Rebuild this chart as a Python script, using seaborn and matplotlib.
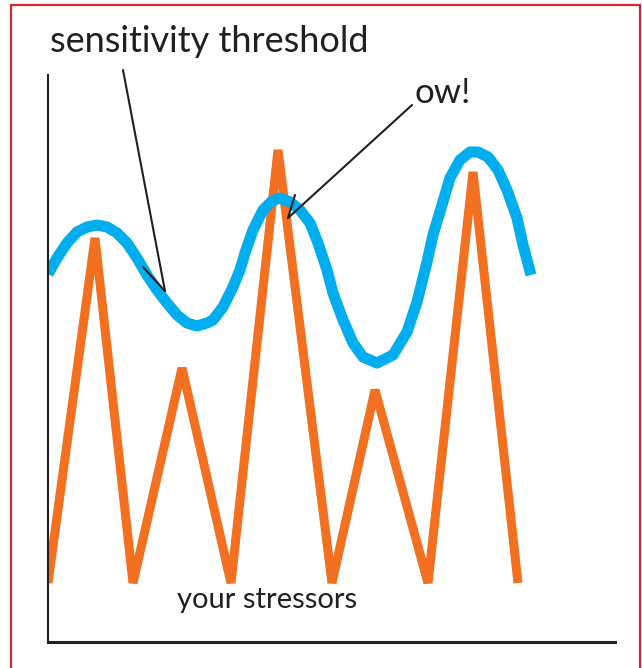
import matplotlib
matplotlib.use("Agg")
import matplotlib.pyplot as plt
from matplotlib.patches import Rectangle
import seaborn as sns
import pandas as pd

# valeurs (unites = pixels depuis le coin des axes)
stress_x = [0, 47, 85, 134, 183, 230, 284, 327, 380, 425, 470]
stress_y = [59, 404, 59, 274, 59, 492, 59, 252, 59, 470, 59]

seuil_x = [0, 9, 19, 29, 39, 49, 59, 69, 79, 89, 99, 109, 119, 129, 139, 149,
           159, 165, 175, 185, 192, 197, 205, 215, 224, 232, 242, 252, 262,
           270, 279, 285, 295, 305, 315, 329, 345, 359, 369, 379, 385, 394,
           402, 412, 422, 430, 440, 450, 459, 469, 475, 483]
seuil_y = [368, 384, 399, 410, 415, 417, 415, 409, 399, 384, 367, 352, 339,
           327, 319, 316, 319, 322, 335, 355, 372, 389, 412, 432, 441, 444,
           440, 432, 419, 399, 372, 349, 322, 299, 285, 279, 287, 310, 340,
           380, 407, 437, 464, 482, 490, 490, 485, 472, 452, 424, 397, 367]

labels = ["sensitivity threshold", "ow!", "your stressors"]

BLEU = "#00aeef"
ORANGE = "#f37021"
NOIR = "#231f20"

sns.set_style("white")
plt.rcParams["font.family"] = ["Lato", "DejaVu Sans"]

W, H = 642, 668
fig = plt.figure(figsize=(W / 100, H / 100), dpi=100)
fig.patches.append(Rectangle((11 / W, -0.05), 629 / W, 1.05 - 5 / H, transform=fig.transFigure,
                             fill=False, edgecolor="#d7282f", linewidth=1.6))

ax = fig.add_axes([48 / W, 26 / H, 567 / W, 567 / H])
ax.set_xlim(0, 567)
ax.set_ylim(0, 567)

df_stress = pd.DataFrame({"x": stress_x, "y": stress_y})
df_seuil = pd.DataFrame({"x": seuil_x, "y": seuil_y})

sns.lineplot(data=df_stress, x="x", y="y", sort=False, color=ORANGE, linewidth=6.5, ax=ax,
             solid_joinstyle="bevel", solid_capstyle="butt")
sns.lineplot(data=df_seuil, x="x", y="y", sort=False, color=BLEU, linewidth=8, ax=ax,
             solid_joinstyle="round", solid_capstyle="butt")

# fleches d'annotation (trait + une seule barbe)
ax.plot([75, 117], [572, 351], color=NOIR, lw=1.5, clip_on=False)
ax.plot([95, 117], [375, 351], color=NOIR, lw=1.5, clip_on=False)
ax.plot([364, 240], [537, 424], color=NOIR, lw=1.5, clip_on=False)
ax.plot([247, 240], [447, 424], color=NOIR, lw=1.5, clip_on=False)

ax.text(2, 600, labels[0], fontsize=26, color=NOIR, va="center", clip_on=False)
ax.text(366, 549, labels[1], fontsize=25, color=NOIR, va="center", clip_on=False)
ax.text(129, 42, labels[2], fontsize=21, color=NOIR, va="center")

ax.set_xlabel("")
ax.set_ylabel("")
ax.set_xticks([])
ax.set_yticks([])
sns.despine(ax=ax)
ax.spines["left"].set_color(NOIR)
ax.spines["bottom"].set_color(NOIR)
ax.spines["left"].set_linewidth(1.5)
ax.spines["bottom"].set_linewidth(2.2)

fig.savefig("out.png", dpi=100)
